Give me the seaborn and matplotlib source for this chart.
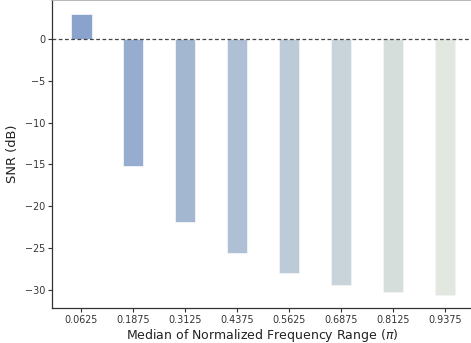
import matplotlib
matplotlib.use("Agg")
import matplotlib.pyplot as plt
import seaborn as sns
import pandas as pd

categories = ["0.0625", "0.1875", "0.3125", "0.4375", "0.5625", "0.6875", "0.8125", "0.9375"]
snr_db = [2.9, -15.2, -21.9, -25.6, -27.95, -29.35, -30.25, -30.5]
yticks = [0, -5, -10, -15, -20, -25, -30]

df = pd.DataFrame({"freq": categories, "snr": snr_db})
palette = sns.blend_palette(["#8aa3cc", "#e2e8df"], n_colors=len(categories))

sns.set_style("white")
fig = plt.figure(figsize=(4.71, 3.43), dpi=100)
ax = fig.add_axes([52 / 471, 35 / 343, 420 / 471, 308 / 343])

sns.barplot(data=df, x="freq", y="snr", hue="freq", palette=palette, legend=False,
            saturation=1, width=0.4, ax=ax, edgecolor="#f2f4f7", linewidth=0.6)
ax.axhline(0, color="#444444", linestyle="--", linewidth=0.9, dashes=(3, 2))

ax.set_ylim(-32.1, 4.6)
ax.set_xlim(-0.56, 7.52)
ax.set_yticks(yticks)
ax.set_yticklabels([f"{t}".replace("-", "\u2212") for t in yticks])
ax.tick_params(axis="both", labelsize=6.9, length=3, width=0.8, color="#333333", labelcolor="#333333", pad=2)
ax.tick_params(axis="x", bottom=True)
ax.tick_params(axis="y", left=True)
ax.set_xlabel("Median of Normalized Frequency Range ($\\pi$)", fontsize=9.0, labelpad=1.5, color="#222222")
ax.set_ylabel("SNR (dB)", fontsize=9.4, labelpad=4, color="#222222")

for s in ["left", "bottom"]:
    ax.spines[s].set_color("#333333")
    ax.spines[s].set_linewidth(0.9)
ax.spines["top"].set_color("#aaaaaa")
ax.spines["top"].set_linewidth(1.2)
ax.spines["right"].set_visible(False)

fig.savefig("out.png", dpi=100)
